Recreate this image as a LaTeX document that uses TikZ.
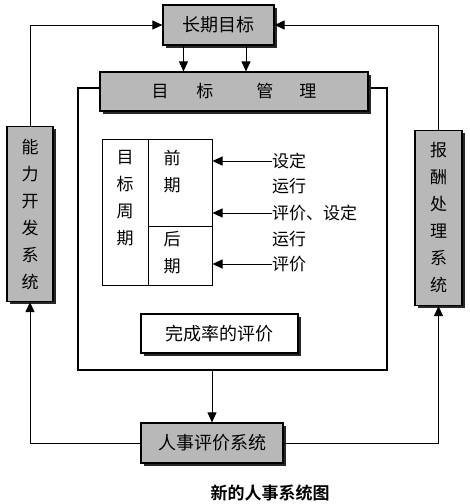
\documentclass[tikz,border=0pt]{standalone}
\usepackage{fontspec}
\setmainfont{Noto Sans CJK SC}
\newfontfamily\capfont{Noto Sans CJK SC Bold}
\usetikzlibrary{arrows.meta, shadows, positioning}
\definecolor{kasten}{RGB}{184,184,184}
\definecolor{schatten}{RGB}{40,40,40}

\begin{document}
\begin{tikzpicture}[x=1pt, y=-1pt,
    box/.style={draw, line width=1.2pt, fill=kasten, inner sep=0pt, font=\fontsize{17}{27}\selectfont,
        drop shadow={shadow xshift=2.5pt, shadow yshift=-2.5pt, fill=schatten, opacity=1}},
    whitebox/.style={box, fill=white},
    cell/.style={draw, line width=1pt, inner sep=0pt},
    txt/.style={inner sep=0pt, font=\fontsize{17}{27}\selectfont},
    arr/.style={line width=1pt, -{Triangle[length=10pt, width=9pt]}}]

    \useasboundingbox (0,0) rectangle (470,504);

    % big frame behind the management box
    \node[draw, line width=1.5pt, minimum width=309pt, minimum height=282pt] (frame) at (232.5,229) {};

    \node[box, minimum width=111pt, minimum height=40pt, font=\fontsize{18}{20}\selectfont] (goal) at (218.5,25) {长期目标};
    \node[box, minimum width=268pt, minimum height=39pt] (mgmt) at (234,91.5)
        {目\hspace{28pt}标\hspace{43pt}管\hspace{26pt}理};
    \node[box, minimum width=46pt, minimum height=175pt, align=center] (ability) at (30,214)
        {能\\力\\开\\发\\系\\统};
    \node[box, minimum width=47pt, minimum height=175pt, align=center] (reward) at (438.5,218)
        {报\\酬\\处\\理\\系\\统};

    % target period table
    \node[cell, minimum width=46pt, minimum height=146pt] (tblL) at (125,212) {};
    \node[cell, minimum width=64pt, minimum height=87pt] (tblA) at (180,182.5) {};
    \node[cell, minimum width=64pt, minimum height=59pt] (tblB) at (180,255.5) {};
    \node[txt, align=center] (period) at (125,198) {目\\标\\周\\期};
    \node[txt, align=center] (early) at (172,171.5) {前\\期};
    \node[txt, align=center] (late) at (172,252.5) {后\\期};

    \node[txt, anchor=west] (setA) at (272,161) {设定};
    \node[txt, anchor=west] (runA) at (272,186) {运行};
    \node[txt, anchor=west] (evalA) at (272,213) {评价、设定};
    \node[txt, anchor=west] (runB) at (272,239) {运行};
    \node[txt, anchor=west] (evalB) at (272,264) {评价};

    \draw[arr] (setA.west) -- (setA.west -| tblA.east);
    \draw[arr] (evalA.west) -- (evalA.west -| tblA.east);
    \draw[arr] (evalB.west) -- (evalB.west -| tblB.east);

    \node[whitebox, minimum width=157pt, minimum height=39pt, font=\fontsize{18}{20}\selectfont] (rate) at (219.5,333.5) {完成率的评价};
    \node[box, minimum width=142pt, minimum height=40pt, font=\fontsize{18}{20}\selectfont] (hr) at (212,443) {人事评价系统};

    \node[inner sep=0pt, font=\capfont\fontsize{17}{20}\selectfont] (caption) at (270,493) {新的人事系统图};

    % connectors
    \draw[arr] ([xshift=-35pt]goal.south) -- ([xshift=-35pt]goal.south |- mgmt.north);
    \draw[arr] ([xshift=27.5pt]goal.south) -- ([xshift=27.5pt]goal.south |- mgmt.north);
    \draw[arr] (frame.south -| hr.north) -- (hr.north);
    \draw[arr] (hr.west) -| (ability.south);
    \draw[arr] (hr.east) -| (reward.south);
    \draw[arr] (ability.north) |- (goal.west);
    \draw[arr] (reward.north) |- (goal.east);

\end{tikzpicture}
\end{document}
